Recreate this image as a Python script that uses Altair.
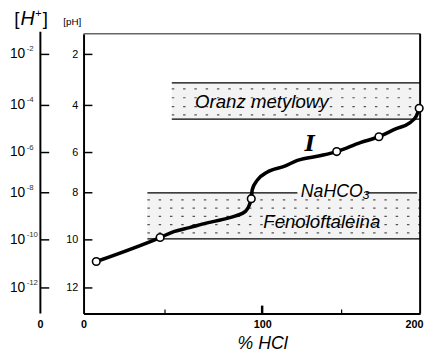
import altair as alt
import pandas as pd

# ---------------- data ----------------
# titration curve I  (% HCl  vs  pH)
curve_x = [7.8, 47.0, 54.5, 62.6, 71.2, 79.8, 86.4, 91.4, 94.4, 94.9, 97.5,
           103.1, 114.2, 122.2, 137.0, 146.9, 161.9, 173.75, 184.4, 193.1, 197.5, 199.4]
curve_ph = [10.9, 9.9, 9.65, 9.48, 9.29, 9.13, 8.98, 8.79, 8.25, 7.85, 7.37,
            6.98, 6.68, 6.39, 6.15, 5.96, 5.58, 5.33, 5.0, 4.75, 4.46, 4.12]

# measured points (open circles)
point_x = [7.8, 47.0, 94.4, 146.9, 173.75, 199.4]
point_ph = [10.9, 9.9, 8.25, 5.96, 5.33, 4.12]

# indicator ranges
band_names = ["Oranz metylowy", "Fenoloftaleina"]
band_x1 = [53.5, 39.2]
band_x2 = [200, 200]
band_ph1 = [3.12, 8.0]
band_ph2 = [4.58, 9.96]
# stippled rows inside the ranges (texture)
stipple_band = [0, 0, 0, 0, 1, 1, 1, 1, 1]
stipple_ph = [3.35, 3.7, 4.05, 4.4, 8.3, 8.65, 9.0, 9.35, 9.7]

# NaHCO3 line (pH 8) broken by its label
nahco3_ph = 8.0
nahco3_x1 = [39.2, 165.6]
nahco3_x2 = [122.2, 198.1]

# annotations
band_label_text = ["Oranz metylowy", "Fenoloftaleina"]
band_label_x = [99.8, 137.5]
band_label_ph = [3.88, 9.25]
salt_label_text = ["NaHCO₃"]
salt_label_x = [146.0]
salt_label_ph = [7.95]
curve_name = ["I"]
curve_name_x = [130.0]
curve_name_ph = [5.63]

# axes
ph_ticks = [2, 4, 6, 8, 10, 12]
h_base = ["10", "10", "10", "10", "10", "10"]
h_exp = ["-2", "-4", "-6", "-8", "-10", "-12"]
x_ticks = [0, 50, 100, 150, 200]
x_minor = [50, 150]
x_major = [100]

# ---------------- tables ----------------
curve_df = pd.DataFrame({"x": curve_x, "ph": curve_ph})
point_df = pd.DataFrame({"x": point_x, "ph": point_ph})
band_df = pd.DataFrame({"name": band_names, "x1": band_x1, "x2": band_x2,
                        "ph1": band_ph1, "ph2": band_ph2})
stipple_df = pd.DataFrame({
    "x1": [band_x1[b] for b in stipple_band],
    "x2": [band_x2[b] for b in stipple_band],
    "ph": stipple_ph,
})
edge_df = pd.DataFrame({
    "x1": [band_x1[0], band_x1[0], band_x1[1]] + nahco3_x1,
    "x2": [band_x2[0], band_x2[0], band_x2[1]] + nahco3_x2,
    "ph": [band_ph1[0], band_ph2[0], band_ph2[1]] + [nahco3_ph, nahco3_ph],
})
band_label_df = pd.DataFrame({"t": band_label_text, "x": band_label_x, "ph": band_label_ph})
salt_label_df = pd.DataFrame({"t": salt_label_text, "x": salt_label_x, "ph": salt_label_ph})
name_df = pd.DataFrame({"t": curve_name, "x": curve_name_x, "ph": curve_name_ph})
htick_df = pd.DataFrame({"ph": ph_ticks, "base": h_base, "exp": h_exp})
minor_df = pd.DataFrame({"x": x_minor})
major_df = pd.DataFrame({"x": x_major})
one_df = pd.DataFrame({"k": [0]})

FONT = "Liberation Sans"
W, H = 343, 285

# piecewise scales (the printed figure is not evenly spaced)
xs = alt.Scale(domain=[0, 50, 100, 150, 200], range=[0, 83, 182, 263, 343],
               nice=False, zero=False)
ys = alt.Scale(domain=[1.19, 2, 4, 6, 8, 10, 12, 13.06],
               range=[0, 21, 73, 121, 162, 210, 259, 285], nice=False, zero=False)

x_axis = alt.Axis(values=x_ticks, grid=False, ticks=False, domain=True,
                  domainColor="black", domainWidth=2,
                  labelExpr="(datum.value == 50 || datum.value == 150) ? '' : datum.label",
                  labelAlign={"condition": {"test": "datum.value == 200", "value": "right"},
                              "value": "center"},
                  labelOffset={"condition": {"test": "datum.value == 200", "value": 3},
                               "value": 0},
                  labelFont=FONT, labelFontSize=11, labelFontWeight="bold",
                  labelColor="black", labelPadding=5, labelFlush=False,
                  title="% HCl", titleFont=FONT, titleFontSize=18,
                  titleFontStyle="italic", titleFontWeight="normal", titleColor="black",
                  titleX=182, titleY=31, titleAlign="center", titleBaseline="middle")
y_axis = alt.Axis(values=ph_ticks, grid=False, ticks=False, domain=True,
                  domainColor="black", domainWidth=2,
                  labelFont=FONT, labelFontSize=11, labelColor="black", labelPadding=6,
                  title="[pH]", titleFont=FONT, titleFontSize=10, titleFontWeight="normal",
                  titleColor="black", titleAngle=0, titleX=-12, titleY=-12,
                  titleAlign="center", titleBaseline="middle")


def X(field):
    return alt.X(field, scale=xs, axis=x_axis)


def Y(field):
    return alt.Y(field, scale=ys, axis=y_axis)


bands = alt.Chart(band_df).mark_rect(fill="#f3f3f3").encode(
    x=X("x1:Q"), x2="x2:Q", y=Y("ph1:Q"), y2="ph2:Q")

stipple = alt.Chart(stipple_df).mark_rule(color="#555555", strokeWidth=1.2,
                                          strokeDash=[2.5, 9]).encode(
    x=X("x1:Q"), x2="x2:Q", y=Y("ph:Q"))

edges = alt.Chart(edge_df).mark_rule(color="black", strokeWidth=1.3).encode(
    x=X("x1:Q"), x2="x2:Q", y=Y("ph:Q"))

curve = alt.Chart(curve_df).mark_line(color="black", strokeWidth=3.6,
                                      interpolate="monotone").encode(
    x=X("x:Q"), y=Y("ph:Q"))

points = alt.Chart(point_df).mark_point(shape="circle", filled=True, fill="white",
                                        stroke="black", strokeWidth=1.6, size=60,
                                        opacity=1).encode(
    x=X("x:Q"), y=Y("ph:Q"))

band_labels = alt.Chart(band_label_df).mark_text(
    font=FONT, fontSize=19, fontStyle="italic", color="black", align="center",
    baseline="middle").encode(x=X("x:Q"), y=Y("ph:Q"), text="t:N")

salt_label = alt.Chart(salt_label_df).mark_text(
    font=FONT, fontSize=18, fontStyle="italic", color="black", align="center",
    baseline="middle").encode(x=X("x:Q"), y=Y("ph:Q"), text="t:N")

name = alt.Chart(name_df).mark_text(font="DejaVu Serif", fontSize=22, fontStyle="italic",
                                    fontWeight="bold", color="black", align="center",
                                    baseline="middle").encode(
    x=X("x:Q"), y=Y("ph:Q"), text="t:N")

# inward ticks of the pH axis
ph_tick_marks = alt.Chart(htick_df).mark_rule(color="black", strokeWidth=1.5).encode(
    x=alt.value(0), x2=alt.value(9), y=Y("ph:Q"))

# [H+] axis drawn to the left of the pH axis
h_ticks = alt.Chart(htick_df).mark_rule(color="black", strokeWidth=1.5).encode(
    x=alt.value(-44), x2=alt.value(-35), y=Y("ph:Q"))
h_domain = alt.Chart(one_df).mark_rule(color="black", strokeWidth=2).encode(
    x=alt.value(-44), y=alt.value(-2), y2=alt.value(H))
h_base_layer = alt.Chart(htick_df).mark_text(font=FONT, fontSize=14, color="black",
                                             align="left", baseline="middle").encode(
    x=alt.value(-75), y=Y("ph:Q"), text="base:N")
h_exp_layer = alt.Chart(htick_df).mark_text(font=FONT, fontSize=8, color="#333333",
                                            align="left", baseline="middle",
                                            dy=-5).encode(
    x=alt.value(-58), y=Y("ph:Q"), text="exp:N")

# [H+] title
h_lb = alt.Chart(one_df).mark_text(font=FONT, fontSize=19, color="black",
                                   align="center", baseline="middle").encode(
    x=alt.value(-68), y=alt.value(-15), text=alt.value("["))
h_H = alt.Chart(one_df).mark_text(font=FONT, fontSize=20, fontStyle="italic",
                                  color="black", align="center", baseline="middle").encode(
    x=alt.value(-57), y=alt.value(-15), text=alt.value("H"))
h_plus = alt.Chart(one_df).mark_text(font=FONT, fontSize=11, color="black",
                                     align="center", baseline="middle").encode(
    x=alt.value(-46), y=alt.value(-20), text=alt.value("+"))
h_rb = alt.Chart(one_df).mark_text(font=FONT, fontSize=19, color="black",
                                   align="center", baseline="middle").encode(
    x=alt.value(-39), y=alt.value(-15), text=alt.value("]"))
h_zero = alt.Chart(one_df).mark_text(font=FONT, fontSize=11, fontWeight="bold",
                                     color="black", align="center",
                                     baseline="middle").encode(
    x=alt.value(-44), y=alt.value(H + 12), text=alt.value("0"))

# x-axis inward ticks
minor_ticks = alt.Chart(minor_df).mark_rule(color="black", strokeWidth=1.2).encode(
    x=X("x:Q"), y=alt.value(H), y2=alt.value(H - 4))
major_ticks = alt.Chart(major_df).mark_rule(color="black", strokeWidth=2.5).encode(
    x=X("x:Q"), y=alt.value(H), y2=alt.value(H - 8))

# frame: top (thin grey) and right (black)
top_line = alt.Chart(one_df).mark_rule(color="#666666", strokeWidth=1.5).encode(
    x=alt.value(0), x2=alt.value(W), y=alt.value(0))
right_line = alt.Chart(one_df).mark_rule(color="black", strokeWidth=2).encode(
    x=alt.value(W), y=alt.value(0), y2=alt.value(H))

chart = alt.layer(
    bands, stipple, edges, top_line, right_line, minor_ticks, major_ticks, ph_tick_marks,
    h_domain, h_ticks, h_base_layer, h_exp_layer, h_lb, h_H, h_plus, h_rb, h_zero,
    band_labels, salt_label, name, curve, points,
).properties(
    width=W, height=H,
    autosize=alt.AutoSizeParams(type="none"),
    padding={"left": 77, "top": 23, "right": 7, "bottom": 37},
).configure_view(stroke=None)

chart.save("out.html", embed_options={"renderer": "svg", "actions": False})
